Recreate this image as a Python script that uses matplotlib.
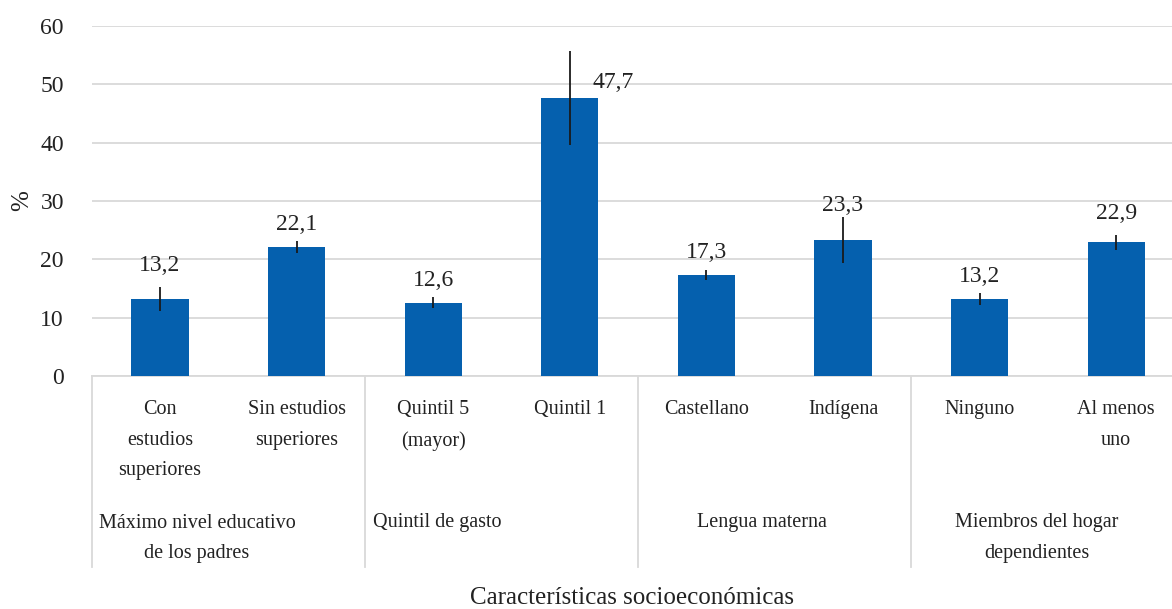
import matplotlib
matplotlib.use("Agg")
import matplotlib.pyplot as plt
from matplotlib.transforms import blended_transform_factory

plt.rcParams['font.family'] = ['Liberation Serif', 'DejaVu Serif']

categories = ["Con\nestudios\nsuperiores", "Sin estudios\nsuperiores",
              "Quintil 5\n(mayor)", "Quintil 1",
              "Castellano", "Indígena",
              "Ninguno", "Al menos\nuno"]
values = [13.2, 22.1, 12.6, 47.7, 17.3, 23.3, 13.2, 22.9]
errors = [2.1, 1.0, 1.0, 8.1, 0.8, 4.0, 0.95, 1.35]
value_labels = ["13,2", "22,1", "12,6", "47,7", "17,3", "23,3", "13,2", "22,9"]
groups = ["Máximo nivel educativo\nde los padres", "Quintil de gasto",
          "Lengua materna", "Miembros del hogar\ndependientes"]
yticks = [0, 10, 20, 30, 40, 50, 60]

# style: label offsets (points) and group-label anchor positions
label_dx = [0, 0, 0, 31, 0, 0, 0, 0]
label_dy = [24, 16, 16, 11, 16, 25, 16, 21]
group_x = [0.27, 2.03, 4.41, 6.42]
separators = [-0.5, 1.5, 3.5, 5.5, 7.5]

W, H = 1172, 609
fig = plt.figure(figsize=(W / 100, H / 100), dpi=100)
left = 91.7 / W
width = 8 * 136.6 / W
bottom = (H - 376) / H
height = 350 / H
ax = fig.add_axes([left, bottom, width, height])

x = list(range(len(values)))
ax.bar(x, values, width=0.42, color='#0560AE', zorder=3)
ax.errorbar(x, values, yerr=errors, fmt='none', ecolor='#1a1a1a',
            elinewidth=1.3, capsize=0, zorder=4)

for i, (v, lab) in enumerate(zip(values, value_labels)):
    ax.annotate(lab, xy=(i, v), xytext=(label_dx[i], label_dy[i]),
                textcoords='offset points', ha='center', va='center',
                fontsize=17, color='#222222', zorder=5)

ax.set_xlim(-0.5, 7.5)
ax.set_ylim(0, 60)
ax.set_yticks(yticks)
ax.set_yticklabels([str(t) for t in yticks], fontsize=17, color='#222222')
ax.tick_params(axis='y', length=0, pad=20)
ax.set_xticks([])
ax.grid(axis='y', color='#d9d9d9', linewidth=1.3, zorder=0)
for s in ['top', 'right', 'left']:
    ax.spines[s].set_visible(False)
ax.spines['bottom'].set_color('#d9d9d9')
ax.spines['bottom'].set_linewidth(1.3)

trans = blended_transform_factory(ax.transData, ax.transAxes)
for i, c in enumerate(categories):
    ax.annotate(c, xy=(i, 0), xycoords=trans, xytext=(0, -17),
                textcoords='offset points', ha='center', va='top',
                fontsize=14.5, color='#222222', linespacing=1.85)
for gx, g in zip(group_x, groups):
    ax.annotate(g, xy=(gx, 0), xycoords=trans, xytext=(0, -99),
                textcoords='offset points', ha='center', va='top',
                fontsize=14.5, color='#222222', linespacing=1.8)
for sx in separators:
    ax.plot([sx, sx], [0, -191 / 350], transform=trans, color='#d9d9d9',
            linewidth=1.3, clip_on=False)

fig.text(632 / W, 1 - 598 / H, "Características socioeconómicas",
         ha='center', va='center', fontsize=18, color='#222222')
fig.text(22 / W, 1 - 201 / H, "%", rotation=90, ha='center', va='center',
         fontsize=18, color='#222222')

fig.savefig("out.png", dpi=100)
